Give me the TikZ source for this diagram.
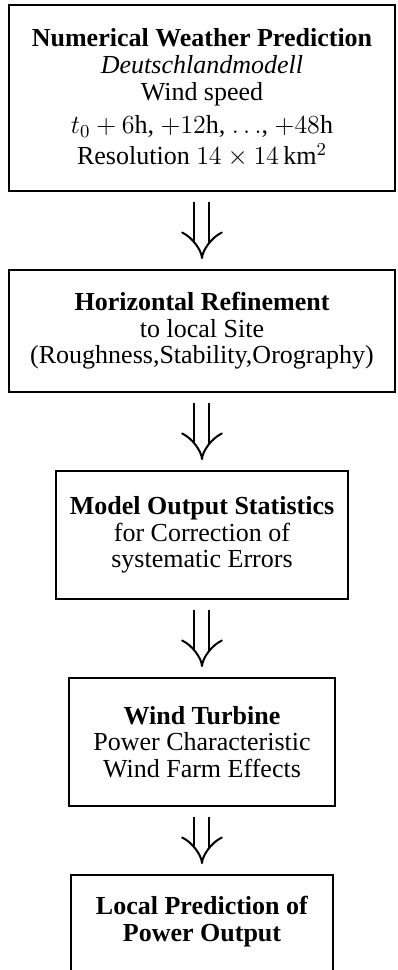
\RequirePackage{fix-cm}
\documentclass[tikz,border=0pt]{standalone}
\usepackage[no-math]{fontspec}
\setmainfont{Liberation Serif}
\usepackage{tikz}
\usetikzlibrary{arrows.meta, positioning}

\begin{document}
\begin{tikzpicture}[
  stage/.style={draw, line width=1bp, align=center, inner sep=0pt, minimum width=#1,
    minimum height=2.258cm, font=\fontsize{13bp}{13.25bp}\selectfont},
  flow/.style={double, double distance=6.5bp, line width=1bp, -{Implies},
    shorten <=5bp, shorten >=5bp},
]
  \useasboundingbox (0, 0) rectangle (7.003, -17.110);
  \clip (0, 0) rectangle (7.003, -17.110);

  \node[stage=6.809cm, minimum height=3.281cm,
    font=\fontsize{13bp}{13.5bp}\selectfont] (nwp) at (3.563, -1.729) {
    \textbf{Numerical Weather Prediction}\\
    \textit{Deutschlandmodell}\\
    Wind speed\\[3bp]
    $t_0+6$h, $+12$h, $\ldots$, $+48$h\\[2bp]
    Resolution $14\times14\,$km$^2$
  };
  \node[stage=6.809cm, minimum height=2.152cm] (refine) at (3.563, -5.839) {
    \textbf{Horizontal Refinement}\\
    to local Site\\
    (Roughness,Stability,Orography)
  };
  \node[stage=5.151cm] (mos) at (3.563, -9.437) {
    \textbf{Model Output Statistics}\\
    for Correction of\\
    systematic Errors
  };
  \node[stage=4.692cm] (turbine) at (3.563, -13.088) {
    \textbf{Wind Turbine}\\
    Power Characteristic\\
    Wind Farm Effects
  };
  \node[stage=4.62cm, minimum height=0pt, inner ysep=10.6bp, text depth=3cm,
    anchor=north] (power) at (3.563, -15.417) {
    \textbf{Local Prediction of}\\
    \textbf{Power Output}
  };

  \draw[flow] (nwp) -- (refine);
  \draw[flow] (refine) -- (mos);
  \draw[flow] (mos) -- (turbine);
  \draw[flow] (turbine) -- (power);
\end{tikzpicture}
\end{document}
